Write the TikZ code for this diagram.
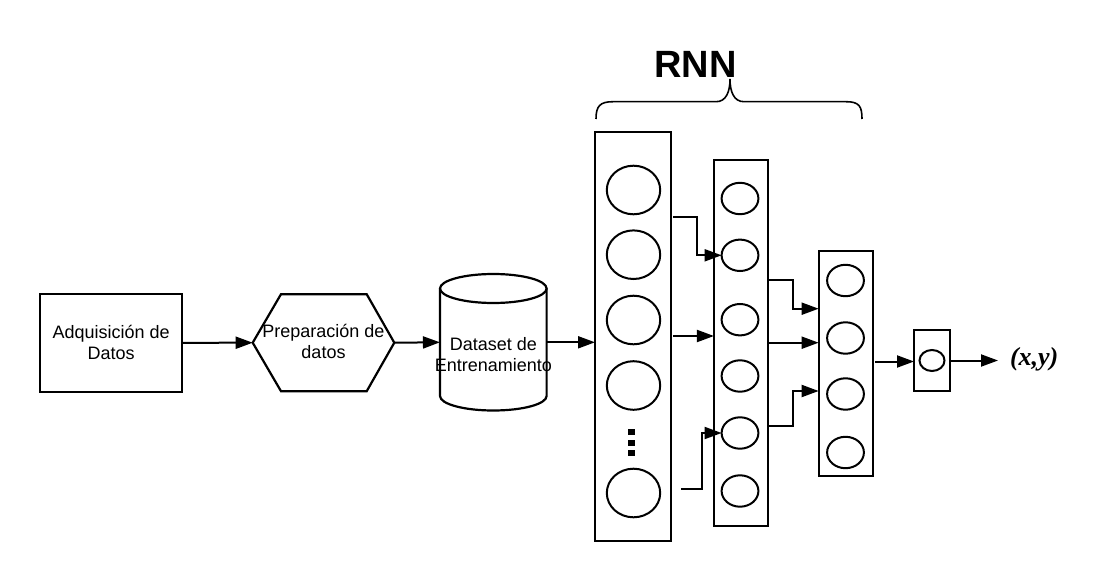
\documentclass[tikz,border=0pt]{standalone}
\usepackage{fontspec}
\setmainfont{Liberation Sans}
\newfontfamily\xyfont{Liberation Serif}
\usetikzlibrary{shapes.geometric,arrows.meta,calc}
\begin{document}
\begin{tikzpicture}[x=1pt,y=-1pt,
  every node/.style={inner sep=0pt, outer sep=0pt},
  lbl/.style={font=\fontsize{18}{21}\selectfont, align=center},
  frame/.style={draw, line width=2.2pt, rectangle},
  neuron/.style={draw, ellipse, line width=2pt},
  bigneuron/.style={neuron, minimum width=53.4pt, minimum height=48.6pt},
  midneuron/.style={neuron, minimum width=36.8pt, minimum height=31.4pt},
  tinyneuron/.style={neuron, minimum width=25pt, minimum height=21pt},
  conn/.style={line width=2pt, -{Triangle[length=17pt,width=12pt]}},
  outline/.style={line width=2.2pt, line join=miter}
]
\useasboundingbox (0,0) rectangle (1113,580);

% --- pipeline ---
\node[frame, minimum width=142.3pt, minimum height=97.7pt, lbl] (adq) at (111.2,342.8) {Adquisición de\\Datos};

\node[minimum width=141.6pt, minimum height=97pt] (prep) at (323.5,342.7) {};
\draw[outline] (prep.west) -- ([xshift=28.3pt]prep.north west) -- ([xshift=-27.6pt]prep.north east)
  -- (prep.east) -- ([xshift=-27.6pt]prep.south east) -- ([xshift=28.3pt]prep.south west) -- cycle;
\node[lbl] (preptext) at (323.5,341) {Preparación de\\datos};

\node[minimum width=106.7pt, minimum height=136.7pt] (data) at (493.3,342.3) {};
\draw[outline] (493.3,288.5) ellipse [x radius=53.3pt, y radius=14.5pt];
\draw[outline] (440,288.5) -- (440,396) arc[start angle=180, end angle=360, x radius=53.3pt, y radius=14.5pt] -- (546.6,288.5);
\node[lbl] (datatext) at (493.3,355) {Dataset de\\Entrenamiento};

\draw[conn] (adq.east) -- (prep.west);
\draw[conn] (prep.east) -- (data.west);

% --- layers ---
\node[frame, minimum width=76pt, minimum height=409pt] (L1) at (633,336.5) {};
\node[frame, minimum width=53.7pt, minimum height=365.7pt] (L2) at (740.8,342.8) {};
\node[frame, minimum width=54.3pt, minimum height=225pt] (L3) at (845.8,363.2) {};
\node[frame, minimum width=36pt, minimum height=61pt] (L4) at (932,360.5) {};

\draw[conn] (data.east) -- (data.east -| L1.west);

\foreach \y/\n in {190/1,254.7/2,320/3,385.5/4,493/5}
  \node[bigneuron] (a\n) at (633.5,\y) {};
\foreach \y/\n in {198.5/1,255.3/2,319.7/3,376/4,433/5,491/6}
  \node[midneuron] (b\n) at (740,\y) {};
\foreach \y/\n in {280.5/1,338/2,394/3,452.5/4}
  \node[midneuron] (c\n) at (845.5,\y) {};
\node[tinyneuron] (d1) at (932,360.5) {};

% vertical dots
\fill (628.3,428.5) rectangle (634.5,434.7);
\fill (628.3,439.5) rectangle (634.5,445.7);
\fill (628.3,450.3) rectangle (634.5,456.3);

% --- connectors between layers ---
\coordinate (p1) at (673.3,216.7);
\coordinate (p2) at (673.3,336);
\coordinate (p3) at (681,488.7);
\draw[conn] (p1) -- ++(23.4,0) |- (b2.west);
\draw[conn] (p2) -- (p2 -| L2.west);
\draw[conn] (p3) -- ++(20.7,0) |- (b5.west);

\coordinate (q1) at (769,280);
\coordinate (q2) at (769,342.7);
\coordinate (q3) at (769,425.7);
\draw[conn] (q1) -- ++(24.3,0) |- (L3.west |- 0,308.7);
\draw[conn] (q2) -- (q2 -| L3.west);
\draw[conn] (q3) -- ++(24.3,0) |- (L3.west |- 0,391);

\coordinate (r1) at (875,361.5);
\draw[conn] (r1) -- (r1 -| L4.west);

\node[anchor=west, font=\xyfont\bfseries\itshape\fontsize{26}{26}\selectfont] (xy) at (1010,359) {(x,y)};
\draw[conn] (L4.east) -- ([xshift=-12pt]xy.west |- L4.east);

% --- RNN brace ---
\node[font=\bfseries\fontsize{38}{38}\selectfont] (rnn) at (695.5,64.7) {RNN};
\draw[line width=1.6pt] (596,119) .. controls (596,106) and (600,101.7) .. (613,101.7) -- (716,101.7)
  .. controls (726,101.7) and (730,92) .. (730,79)
  .. controls (730,92) and (734,101.7) .. (744,101.7) -- (846,101.7)
  .. controls (859,101.7) and (862,106) .. (862,119);
\end{tikzpicture}
\end{document}
